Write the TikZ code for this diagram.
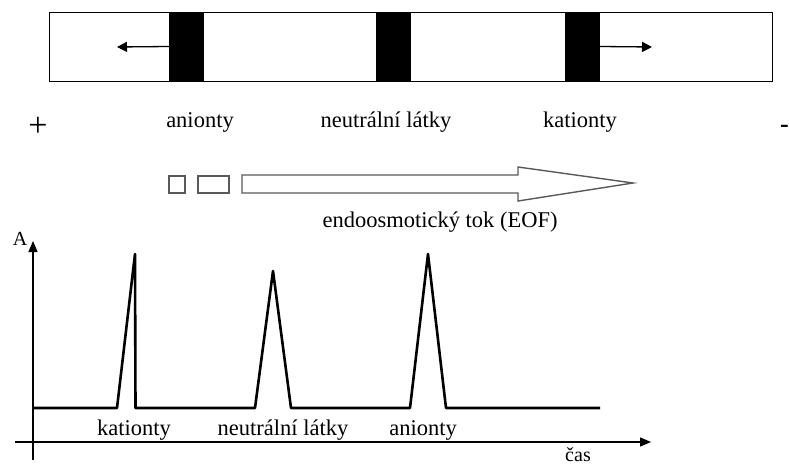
\documentclass[tikz,border=0pt]{standalone}
\usepackage{fontspec}
\setmainfont{Liberation Serif}
\usetikzlibrary{arrows.meta}
\begin{document}
\begin{tikzpicture}[x=1pt,y=-1pt,
  lbl/.style={inner sep=0pt, font=\fontsize{22.5}{26}\selectfont},
  band/.style={fill=black, draw=none, minimum width=35pt, minimum height=69pt, inner sep=0pt},
  migr/.style={line width=1.3pt, -{Triangle[length=10pt,width=10pt]}},
  eof/.style={draw=black!65, line width=1.4pt},
  sig/.style={line width=2.6pt, line join=round},
  ax/.style={line width=1.3pt}]
\useasboundingbox (0,0) rectangle (789,468);
% capillary
\node[draw, line width=1.2pt, minimum width=723pt, minimum height=69pt, inner sep=0pt, anchor=north west] (tube) at (49,12) {};
\node[band] (b1) at (186.5,46.5) {};
\node[band] (b2) at (393.5,46.5) {};
\node[band] (b3) at (582.5,46.5) {};
\coordinate (lt) at (117,47);
\coordinate (rt) at (652,47);
\draw[migr] (b1.west) -- (lt);
\draw[migr] (b3.east) -- (rt);
\node[lbl] (la1) at (200,122) {anionty};
\node[lbl] (la2) at (386,122) {neutrální látky};
\node[lbl] (la3) at (580,122) {kationty};
\node[lbl, font=\fontsize{34}{36}\selectfont] (plus) at (38,127) {+};
\node[lbl, anchor=east, font=\bfseries\fontsize{26}{28}\selectfont] (minus) at (789,129) {-};
% EOF
\node[eof, minimum width=16pt, minimum height=17pt, inner sep=0pt] (sq1) at (177,184.5) {};
\node[eof, minimum width=31pt, minimum height=17pt, inner sep=0pt] (sq2) at (213.5,184.5) {};
\draw[eof] (242,175) coordinate (e1) -- (518,175) -- (518,167) -- (633,183) coordinate (etip) -- (518,201) -- (518,193) -- (242,193) -- cycle;
\node[lbl] (eoft) at (440,222) {endoosmotický tok (EOF)};
% electropherogram
\coordinate (yb) at (33,460);
\coordinate (yt) at (33,241);
\coordinate (xl) at (15,442);
\coordinate (xr) at (651,442);
\draw[ax, -{Triangle[length=11pt,width=9pt]}] (yb) -- (yt);
\draw[ax, -{Triangle[length=11pt,width=9pt]}] (xl) -- (xr);
\node[lbl, font=\fontsize{20}{22}\selectfont] (A) at (20,239) {A};
\node[lbl, font=\fontsize{20}{22}\selectfont] (cas) at (578,455) {čas};
\draw[sig] (33,408) -- (117,408) -- (135,254) -- (135.5,408) -- (255,408) -- (273,271) -- (291,408) -- (410,408) -- (428,254) -- (446,408) -- (600,408);
\node[lbl] (p1) at (134,430) {kationty};
\node[lbl] (p2) at (283,430) {neutrální látky};
\node[lbl] (p3) at (423,430) {anionty};
\end{tikzpicture}
\end{document}
